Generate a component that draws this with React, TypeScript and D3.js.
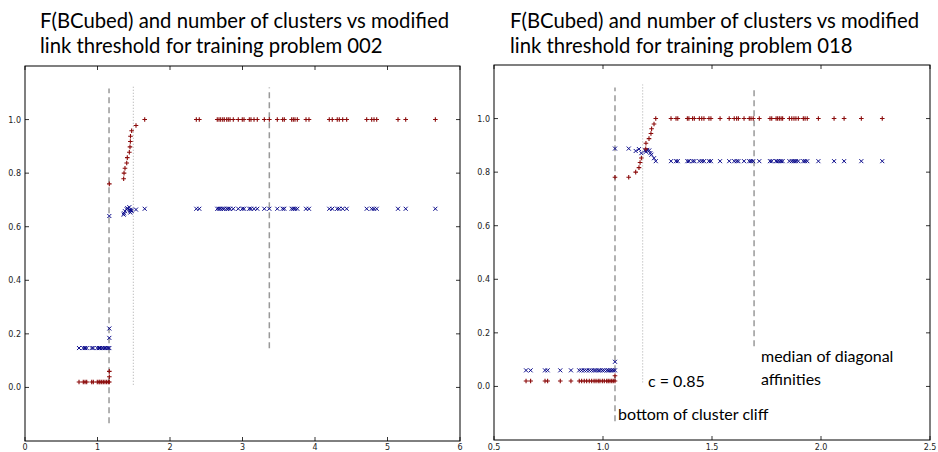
import React from "react";
import * as d3 from "d3";

// ---------- Data: left panel (problem 002) ----------
const leftLowX = [0.745, 0.804, 0.828, 0.851, 0.92, 0.942, 0.997, 1.021, 1.034, 1.058, 1.08, 1.103, 1.126, 1.149, 1.163];
const leftLowF = 0.02;
const leftLowN = 0.147;
const leftCliffX = [1.163, 1.163, 1.163];
const leftCliffF = [0.04, 0.06, 0.76];
const leftCliffN = [0.185, 0.22, 0.64];
const leftRiseX = [1.361, 1.366, 1.379, 1.403, 1.411, 1.439, 1.448, 1.453, 1.455, 1.471, 1.531];
const leftRiseF = [0.779, 0.80, 0.818, 0.838, 0.858, 0.878, 0.898, 0.918, 0.938, 0.958, 0.978];
const leftRiseN = [0.645, 0.650, 0.658, 0.665, 0.669, 0.673, 0.663, 0.653, 0.660, 0.660, 0.664];
const leftHighX = [1.651, 2.363, 2.404, 2.652, 2.676, 2.699, 2.727, 2.749, 2.782, 2.804, 2.828, 2.873, 2.942, 2.997, 3.021, 3.094, 3.117, 3.159, 3.204, 3.301, 3.37, 3.48, 3.554, 3.577, 3.678, 3.701, 3.724, 3.756, 3.876, 3.917, 4.197, 4.238, 4.307, 4.335, 4.382, 4.437, 4.713, 4.782, 4.814, 4.851, 5.145, 5.251, 5.66];
const leftHighF = 1.0;
const leftHighN = 0.667;
const leftXTicks = [0, 1, 2, 3, 4, 5, 6];
const leftVLines = [
  { x: 1.159, y0: -0.134, y1: 1.116, style: "dashed" },
  { x: 1.494, y0: 0.01, y1: 1.127, style: "dotted" },
  { x: 3.37, y0: 0.146, y1: 1.12, style: "dashed" },
];

// ---------- Data: right panel (problem 018) ----------
const rightLowX = [0.647, 0.668, 0.734, 0.746, 0.804, 0.853, 0.891, 0.902, 0.914, 0.925, 0.937, 0.948, 0.959, 0.968, 0.978, 0.986, 0.997, 1.006, 1.017, 1.024, 1.032, 1.040, 1.047, 1.055];
const rightLowF = 0.02;
const rightLowN = 0.06;
const rightCliffX = [1.055, 1.055];
const rightCliffF = [0.04, 0.781];
const rightCliffN = [0.092, 0.888];
const rightRiseFX = [1.118, 1.150, 1.165, 1.170, 1.176, 1.196, 1.197, 1.211, 1.220, 1.223, 1.234];
const rightRiseF = [0.781, 0.80, 0.817, 0.836, 0.853, 0.887, 0.908, 0.925, 0.944, 0.962, 0.980];
const rightRiseNX = [1.118, 1.150, 1.165, 1.176, 1.194, 1.197, 1.203, 1.212, 1.217, 1.222, 1.234];
const rightRiseN = [0.888, 0.879, 0.886, 0.871, 0.881, 0.876, 0.883, 0.881, 0.871, 0.865, 0.852];
const rightHighX = [1.242, 1.312, 1.335, 1.343, 1.387, 1.394, 1.411, 1.419, 1.442, 1.453, 1.463, 1.486, 1.495, 1.537, 1.579, 1.602, 1.613, 1.621, 1.647, 1.671, 1.679, 1.689, 1.717, 1.766, 1.774, 1.794, 1.801, 1.809, 1.817, 1.824, 1.855, 1.866, 1.876, 1.885, 1.896, 1.919, 1.927, 1.937, 1.988, 2.06, 2.106, 2.185, 2.281];
const rightHighF = 1.0;
const rightHighN = 0.841;
const rightXTicks = [0.5, 1.0, 1.5, 2.0, 2.5];
const rightVLines = [
  { x: 1.055, y0: -0.13, y1: 1.116, style: "dashed" },
  { x: 1.182, y0: 0.015, y1: 1.127, style: "dotted" },
  { x: 1.693, y0: 0.15, y1: 1.12, style: "dashed" },
];

const yTicks = [0.0, 0.2, 0.4, 0.6, 0.8, 1.0];
const leftTitle = ["F(BCubed) and number of clusters vs modified", "link threshold for training problem 002"];
const rightTitle = ["F(BCubed) and number of clusters vs modified", "link threshold for training problem 018"];

type Pt = [number, number];
type VL = { x: number; y0: number; y1: number; style: string };

const RED = "#8b0a0a";
const BLUE = "#0a0a8b";

function Panel(props: {
  left: number; top: number; width: number; height: number;
  xDomain: [number, number]; xTicks: number[]; xFmt: (v: number) => string;
  red: Pt[]; blue: Pt[]; vlines: VL[];
}) {
  const { left, top, width, height } = props;
  const x = d3.scaleLinear().domain(props.xDomain).range([left, left + width]);
  const y = d3.scaleLinear().domain([-0.2, 1.2]).range([top + height, top]);
  const tl = 4;
  return (
    <g>
      <rect x={left} y={top} width={width} height={height} fill="white" stroke="none" />
      {props.vlines.map((v, i) => (
        <line key={"v" + i} x1={x(v.x)} x2={x(v.x)} y1={y(v.y0)} y2={y(v.y1)}
          stroke={v.style === "dashed" ? "#999" : "#aaa"} strokeWidth={v.style === "dashed" ? 1.5 : 1}
          strokeDasharray={v.style === "dashed" ? "6,4" : "1,2"} />
      ))}
      {props.blue.map((p, i) => {
        const cx = x(p[0]), cy = y(p[1]), s = 2;
        return (
          <path key={"b" + i} d={`M${cx - s},${cy - s}L${cx + s},${cy + s}M${cx - s},${cy + s}L${cx + s},${cy - s}`}
            stroke={BLUE} strokeWidth={1} fill="none" />
        );
      })}
      {props.red.map((p, i) => {
        const cx = x(p[0]), cy = y(p[1]), s = 2.3;
        return (
          <path key={"r" + i} d={`M${cx - s},${cy}L${cx + s},${cy}M${cx},${cy - s}L${cx},${cy + s}`}
            stroke={RED} strokeWidth={1.1} fill="none" />
        );
      })}
      <rect x={left} y={top} width={width} height={height} fill="none" stroke="#000" strokeWidth={1} />
      {props.xTicks.map((t, i) => (
        <g key={"xt" + i}>
          <line x1={x(t)} x2={x(t)} y1={top + height} y2={top + height - tl} stroke="#000" strokeWidth={0.8} />
          <line x1={x(t)} x2={x(t)} y1={top} y2={top + tl} stroke="#000" strokeWidth={0.8} />
          <text x={x(t)} y={450} textAnchor="middle" fontSize={8} fontFamily="DejaVu Sans" fill="#222">
            {props.xFmt(t)}
          </text>
        </g>
      ))}
      {yTicks.map((t, i) => (
        <g key={"yt" + i}>
          <line x1={left} x2={left + tl} y1={y(t)} y2={y(t)} stroke="#000" strokeWidth={0.8} />
          <line x1={left + width} x2={left + width - tl} y1={y(t)} y2={y(t)} stroke="#000" strokeWidth={0.8} />
          <text x={left - 4} y={y(t) + 3} textAnchor="end" fontSize={8} fontFamily="DejaVu Sans" fill="#222">
            {d3.format(".1f")(t)}
          </text>
        </g>
      ))}
    </g>
  );
}

function build(lowX: number[], lowV: number, cX: number[], cV: number[], rX: number[], rV: number[], hX: number[], hV: number): Pt[] {
  const pts: Pt[] = [];
  lowX.forEach((v) => pts.push([v, lowV]));
  cX.forEach((v, i) => pts.push([v, cV[i]]));
  rX.forEach((v, i) => pts.push([v, rV[i]]));
  hX.forEach((v) => pts.push([v, hV]));
  return pts;
}

export default function App() {
  const leftRed = build(leftLowX, leftLowF, leftCliffX, leftCliffF, leftRiseX, leftRiseF, leftHighX, leftHighF);
  const leftBlue = build(leftLowX, leftLowN, leftCliffX, leftCliffN, leftRiseX, leftRiseN, leftHighX, leftHighN);
  const rightRed = build(rightLowX, rightLowF, rightCliffX, rightCliffF, rightRiseFX, rightRiseF, rightHighX, rightHighF);
  const rightBlue = build(rightLowX, rightLowN, rightCliffX, rightCliffN, rightRiseNX, rightRiseN, rightHighX, rightHighN);
  const titleFont = "Lato";
  return (
    <svg width={938} height={452} style={{ position: "absolute", left: 0, top: 0, background: "white" }}>
      <rect width={938} height={452} fill="white" />
      <Panel left={25} top={66} width={435} height={375} xDomain={[0, 6]} xTicks={leftXTicks}
        xFmt={(v) => String(v)} red={leftRed} blue={leftBlue} vlines={leftVLines} />
      <Panel left={494} top={65} width={436} height={375} xDomain={[0.5, 2.5]} xTicks={rightXTicks}
        xFmt={(v) => d3.format(".1f")(v)} red={rightRed} blue={rightBlue} vlines={rightVLines} />
      {leftTitle.map((s, i) => (
        <text key={"lt" + i} x={40} y={28 + i * 25} fontSize={20.3} fontFamily={titleFont} fill="#000">{s}</text>
      ))}
      {rightTitle.map((s, i) => (
        <text key={"rt" + i} x={510} y={28 + i * 25} fontSize={20.3} fontFamily={titleFont} fill="#000">{s}</text>
      ))}
      <text x={761} y={362} fontSize={16} fontFamily={titleFont} fill="#000">median of diagonal</text>
      <text x={761} y={385} fontSize={16} fontFamily={titleFont} fill="#000">affinities</text>
      <text x={648} y={387} fontSize={16} fontFamily={titleFont} fill="#000">c = 0.85</text>
      <text x={618} y={420} fontSize={16} fontFamily={titleFont} fill="#000">bottom of cluster cliff</text>
    </svg>
  );
}
